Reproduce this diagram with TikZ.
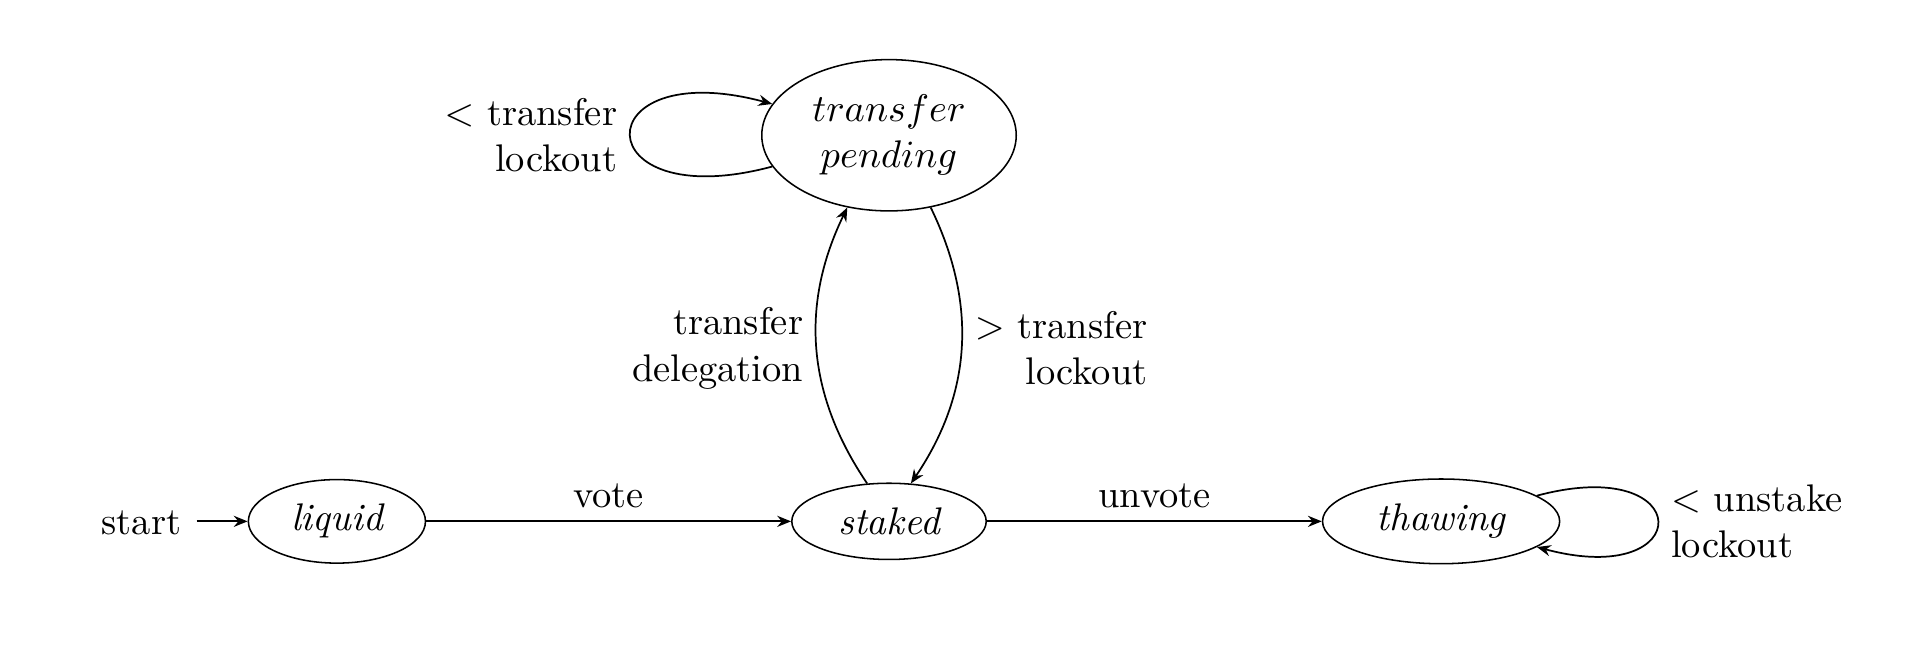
\documentclass[tikz,border=0pt]{standalone}
\usetikzlibrary{arrows.meta,shapes.geometric}
\begin{document}
\begin{tikzpicture}[x=0.3194pt,y=-0.3194pt,
  every node/.style={font=\fontsize{10}{12}\selectfont},
  statebox/.style={ellipse,draw,inner sep=0pt},
  lbl/.style={inner sep=3.33pt,align=right},
  tr/.style={-{Stealth[length=3.6pt,width=2.9pt,inset=1.2pt]},line width=0.45pt},
  every loop/.style={}]
\useasboundingbox (0,0) rectangle (1568,529);
\node[statebox,minimum width=46pt,minimum height=21.7pt] (liquid) at (274,424) {\itshape liquid};
\node[statebox,minimum width=50.5pt,minimum height=19.8pt] (staked) at (723,424) {\itshape staked};
\node[statebox,minimum width=61.6pt,minimum height=22pt] (thawing) at (1172,424) {\itshape thawing};
\node[statebox,minimum width=66.1pt,minimum height=39.3pt,align=center] (pending) at (723,110) {$transfer$\\$pending$};
\node[inner sep=0pt] (start) at (115,425) {start};
\coordinate (startend) at (160,424);

\draw[tr] (startend) -- (liquid);
\draw[tr] (liquid) -- node[above,lbl] (lvote) {vote} (staked);
\draw[tr] (staked) -- node[above,lbl] (lunvote) {unvote} (thawing);
\draw[tr] (staked) to[bend left] node[left,lbl] (ldeleg) {transfer\\delegation} (pending);
\draw[tr] (pending) to[bend left] node[right,lbl] (llock) {$>$ transfer\\lockout} (staked);
\draw[tr] (pending) to[loop left,looseness=8,min distance=5mm] node[left,lbl] (lploop) {$<$ transfer\\lockout} (pending);
\draw[tr] (thawing) to[loop right,looseness=8.3,min distance=5mm] node[right,lbl,align=left] (ltloop) {$<$ unstake\\lockout} (thawing);
\end{tikzpicture}
\end{document}
